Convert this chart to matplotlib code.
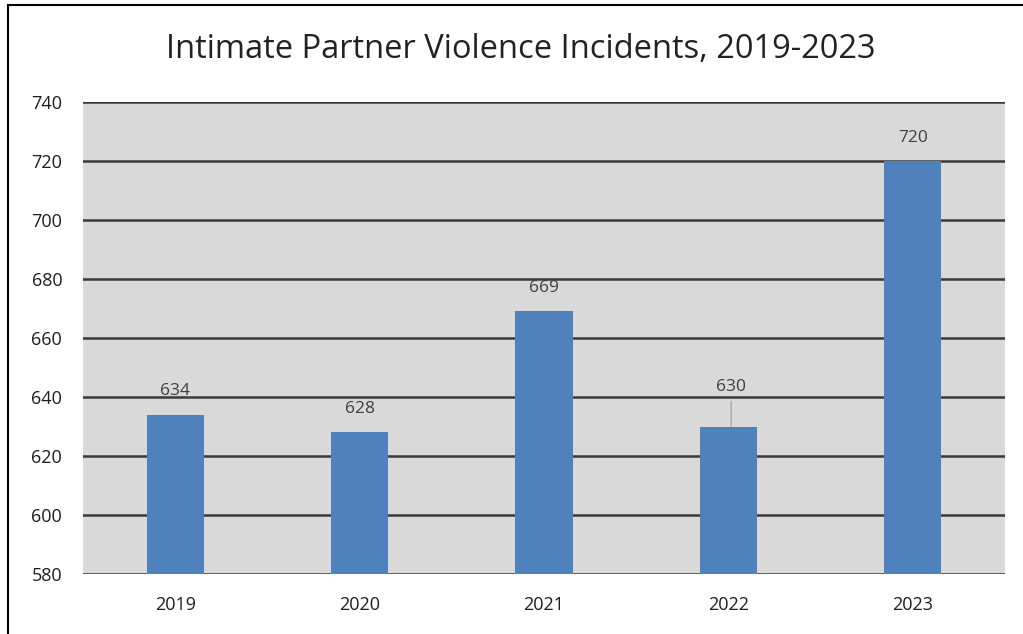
import matplotlib.pyplot as plt
from matplotlib.lines import Line2D

years = ['2019', '2020', '2021', '2022', '2023']
incidents = [634, 628, 669, 630, 720]
y_ticks = [580, 600, 620, 640, 660, 680, 700, 720, 740]

plt.rcParams['font.family'] = ['Open Sans', 'DejaVu Sans']

fig = plt.figure(figsize=(10.23, 6.34), dpi=100)
W, H = 1023, 634
ax = fig.add_axes([83 / W, 1 - 574 / H, (1005 - 83) / W, (574 - 102) / H])
ax.set_facecolor('#D9D9D9')

x = range(len(years))
ax.bar(x, incidents, width=0.31, color='#4F81BD', zorder=3)
ax.set_xlim(-0.5, len(years) - 0.5)
ax.set_ylim(580, 740)
ax.set_yticks(y_ticks)
ax.set_xticks(list(x))
ax.set_xticklabels(years)

ax.grid(axis='y', color='#3A3A3A', linewidth=1.8, zorder=1)
ax.set_axisbelow(True)
for s in ax.spines.values():
    s.set_visible(False)
ax.tick_params(length=0, labelsize=13, colors='#1E1E1E')
ax.tick_params(axis='x', pad=16)
ax.tick_params(axis='y', pad=15)

# data labels
for i, v in enumerate(incidents):
    if years[i] == '2022':
        ax.annotate(str(v), xy=(i + 0.015, v), xytext=(0, 23), textcoords='offset points',
                    ha='center', va='bottom', fontsize=12.5, color='#404040',
                    arrowprops=dict(arrowstyle='-', color='#A6A6A6', lw=1,
                                    shrinkA=3, shrinkB=0))
    else:
        ax.annotate(str(v), xy=(i, v), xytext=(0, 11), textcoords='offset points',
                    ha='center', va='bottom', fontsize=12.5, color='#404040')

fig.text(0.509, 1 - 49 / H, 'Intimate Partner Violence Incidents, 2019-2023',
         ha='center', va='center', fontsize=23.5, color='#222222')

# outer border (top and left visible)
fig.add_artist(Line2D([8 / W, 8 / W], [0, 1 - 5 / H], color='black', lw=1.5))
fig.add_artist(Line2D([8 / W, 1], [1 - 5 / H, 1 - 5 / H], color='black', lw=1.5))

fig.savefig('out.png', dpi=100)
